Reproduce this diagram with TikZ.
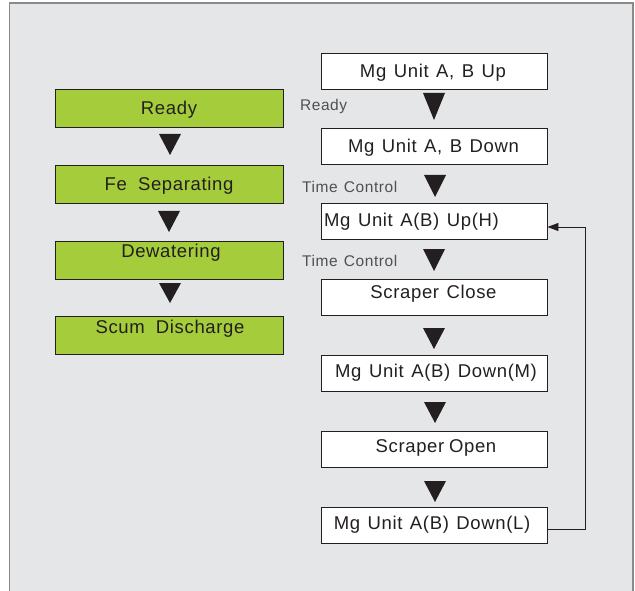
\documentclass[tikz,border=0pt]{standalone}
\usepackage{fontspec}
\setmainfont{Liberation Sans}
\newfontfamily\spacedsans[LetterSpace=3.5,WordSpace=1.3]{Liberation Sans}
\usetikzlibrary{arrows.meta}
\definecolor{bg}{HTML}{E5E6E8}
\definecolor{frame}{HTML}{8A8A8A}
\definecolor{ink}{HTML}{231F20}
\definecolor{leaf}{HTML}{A5CC3A}
\definecolor{lbl}{HTML}{505050}
\tikzset{
  greenbox/.style={draw=ink, line width=0.9pt, fill=leaf, minimum width=228pt, minimum height=38pt, inner sep=0pt},
  whitebox/.style={draw=ink, line width=0.9pt, fill=white, minimum width=226pt, minimum height=36pt, inner sep=0pt},
  boxtext/.style={inner sep=0pt, text=ink, font=\spacedsans\fontsize{18.5}{20}\selectfont},
  sidelbl/.style={inner sep=0pt, anchor=west, text=lbl, font=\spacedsans\fontsize{15.5}{17}\selectfont},
  tri/.style={fill=ink, draw=none},
  loopline/.style={draw=ink, line width=0.9pt}
}
\newcommand{\downtri}[3]{\fill[tri] (#1-11,#2) -- (#1+11,#2) -- (#1,#3) -- cycle;}
\begin{document}
\begin{tikzpicture}[x=1pt,y=-1pt]
\useasboundingbox (0,0) rectangle (635,591);
\fill[white] (0,0) rectangle (635,591);
\fill[bg] (9.5,3) rectangle (633,595);
\draw[frame, line width=1.3pt] (9.5,595) -- (9.5,3) -- (633,3) -- (633,595);

% left column
\node[greenbox] (g1) at (169,108.5) {};
\node[boxtext] at (169,110) {Ready};
\node[greenbox] (g2) at (169,184) {};
\node[boxtext] at (169,186) {Fe\hspace{0.2em} Separating};
\node[greenbox] (g3) at (169,260) {};
\node[boxtext] at (171,253) {Dewatering};
\node[greenbox] (g4) at (169,335.5) {};
\node[boxtext] at (170,329) {Scum\hspace{0.2em} Discharge};
\downtri{170}{134}{155}
\downtri{169}{211}{232}
\downtri{170}{283}{303}

% right column
\node[whitebox] (r1) at (434,71) {};
\node[boxtext] at (433,73) {Mg Unit A, B Up};
\node[whitebox] (r2) at (434,146) {};
\node[boxtext] at (433.5,148) {Mg Unit A, B Down};
\node[whitebox] (r3) at (434,221.5) {};
\node[boxtext] at (411.5,221.5) {Mg Unit A(B) Up(H)};
\node[whitebox] (r4) at (434,297.5) {};
\node[boxtext] at (433.5,294) {Scraper Close};
\node[whitebox] (r5) at (434,373.5) {};
\node[boxtext] at (436,373) {Mg Unit A(B) Down(M)};
\node[whitebox] (r6) at (434,449) {};
\node[boxtext] at (436,448) {Scraper\hspace{-0.15em} Open};
\node[whitebox] (r7) at (434,525) {};
\node[boxtext] at (432,525) {Mg Unit A(B) Down(L)};

\downtri{434}{93}{120}
\downtri{435}{175}{197}
\downtri{434}{249}{271}
\downtri{434}{328}{349}
\downtri{435}{402}{423}
\downtri{435}{481}{502}

\node[sidelbl] (l1) at (300,106) {Ready};
\node[sidelbl] (l2) at (302,187) {Time Control};
\node[sidelbl] (l3) at (302,261) {Time Control};

% feedback loop
\coordinate (c1) at (585,529);
\coordinate (c2) at (585,227);
\draw[loopline, -{Triangle[length=11pt,width=8pt]}] (r7.east |- c1) -- (c1) -- (c2) -- (r3.east |- c2);
\end{tikzpicture}
\end{document}
